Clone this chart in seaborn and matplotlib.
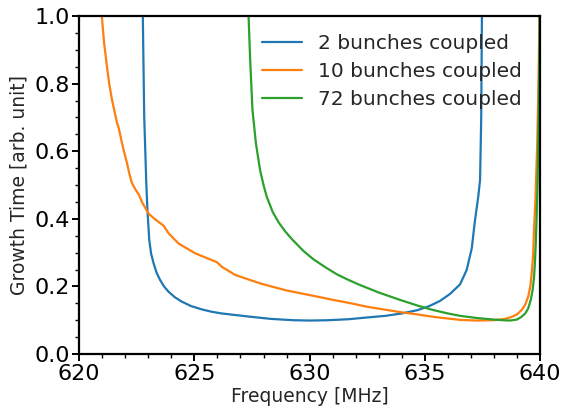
import matplotlib
matplotlib.use('Agg')
import matplotlib.pyplot as plt
import seaborn as sns
import pandas as pd
from matplotlib.ticker import MultipleLocator

# values
freq_2 = [622.76, 622.82, 622.91, 622.96, 623.04, 623.12, 623.23, 623.36,
          623.51, 623.68, 623.88, 624.15, 624.45, 624.85, 625.32, 625.75,
          626.19, 627.2, 628.3, 629.3, 630.0, 630.8, 631.7, 632.48, 633.3,
          634.0, 634.7, 635.2, 635.66, 636.1, 636.53, 636.82, 637.04, 637.18,
          637.32, 637.4, 637.45, 637.48]
growth_2 = [1.0, 0.704, 0.507, 0.426, 0.337, 0.297, 0.268, 0.24,
            0.219, 0.2, 0.184, 0.168, 0.155, 0.142, 0.132, 0.125,
            0.12, 0.112, 0.104, 0.1, 0.099, 0.1, 0.103, 0.108, 0.113,
            0.12, 0.13, 0.142, 0.157, 0.178, 0.206, 0.249, 0.313, 0.396,
            0.465, 0.515, 0.7, 1.0]

freq_10 = [620.98, 621.08, 621.2, 621.3, 621.42, 621.54, 621.64, 621.71,
           621.82, 621.92, 622.07, 622.17, 622.28, 622.43, 622.6, 622.72,
           623.0, 623.3, 623.66, 623.88, 624.31, 625.03, 625.5, 625.97,
           626.19, 626.77, 627.2, 627.85, 628.5, 629.0, 629.59, 630.46,
           631.03, 631.8, 632.48, 633.2, 633.93, 634.7, 635.37, 636.0,
           636.53, 637.25, 637.97, 638.4, 638.7, 639.0, 639.2, 639.36,
           639.49, 639.58, 639.64, 639.7, 639.74, 639.8, 639.83, 639.88,
           639.93, 639.98]
growth_10 = [1.0, 0.92, 0.852, 0.8, 0.753, 0.715, 0.684, 0.67,
             0.635, 0.605, 0.566, 0.535, 0.507, 0.488, 0.47, 0.45,
             0.416, 0.398, 0.38, 0.357, 0.327, 0.298, 0.285, 0.272,
             0.258, 0.234, 0.224, 0.209, 0.197, 0.188, 0.18, 0.168,
             0.16, 0.15, 0.14, 0.132, 0.124, 0.117, 0.11, 0.105,
             0.101, 0.099, 0.1, 0.103, 0.108, 0.117, 0.13, 0.146,
             0.17, 0.2, 0.238, 0.29, 0.367, 0.45, 0.515, 0.62,
             0.78, 1.0]

freq_72 = [627.35, 627.42, 627.52, 627.67, 627.85, 628.0, 628.14, 628.4,
           628.65, 628.95, 629.23, 629.73, 630.17, 630.7, 631.18, 631.6,
           632.12, 633.0, 633.93, 634.7, 635.37, 636.0, 636.53, 637.2,
           637.97, 638.4, 638.7, 639.0, 639.2, 639.36, 639.49, 639.6,
           639.68, 639.74, 639.78, 639.82, 639.86, 639.9, 639.95, 639.99]
growth_72 = [1.0, 0.87, 0.722, 0.623, 0.544, 0.5, 0.465, 0.42,
             0.39, 0.362, 0.34, 0.305, 0.28, 0.256, 0.236, 0.222,
             0.206, 0.182, 0.16, 0.143, 0.13, 0.12, 0.113, 0.107,
             0.102, 0.1, 0.099, 0.102, 0.11, 0.12, 0.135, 0.16,
             0.189, 0.225, 0.268, 0.33, 0.416, 0.515, 0.75, 1.0]

labels = ['2 bunches coupled', '10 bunches coupled', '72 bunches coupled']

df = pd.concat([
    pd.DataFrame({'freq': freq_2, 'growth': growth_2, 'case': labels[0]}),
    pd.DataFrame({'freq': freq_10, 'growth': growth_10, 'case': labels[1]}),
    pd.DataFrame({'freq': freq_72, 'growth': growth_72, 'case': labels[2]}),
])

sns.set_style('ticks')
plt.rcParams['font.family'] = ['DejaVu Sans']

fig, ax = plt.subplots(figsize=(5.66, 4.16), dpi=100)
fig.subplots_adjust(left=0.14, right=0.954, bottom=0.149, top=0.9615)

sns.lineplot(data=df, x='freq', y='growth', hue='case', hue_order=labels,
             palette=['#1f77b4', '#ff7f0e', '#2ca02c'], estimator=None,
             sort=False, linewidth=1.6, ax=ax)

ax.set_xlim(620, 640)
ax.set_ylim(0, 1)
ax.xaxis.set_major_locator(MultipleLocator(5))
ax.xaxis.set_minor_locator(MultipleLocator(1))
ax.yaxis.set_major_locator(MultipleLocator(0.2))
ax.yaxis.set_minor_locator(MultipleLocator(0.05))
ax.tick_params(which='major', direction='out', length=5, width=1.4,
               labelsize=16, colors='black', pad=2)
ax.tick_params(which='minor', direction='out', length=3, width=1, colors='black')
for sp in ax.spines.values():
    sp.set_visible(True)
    sp.set_linewidth(1.6)
    sp.set_color('black')

ax.set_xlabel('Frequency [MHz]', fontsize=13.5, labelpad=2)
ax.set_ylabel('Growth Time [arb. unit]', fontsize=13.5, labelpad=4)

ax.legend(loc='upper right', frameon=False, fontsize=14.5, title=None,
          labelspacing=0.45)

plt.savefig('out.png', dpi=100)
plt.close()
